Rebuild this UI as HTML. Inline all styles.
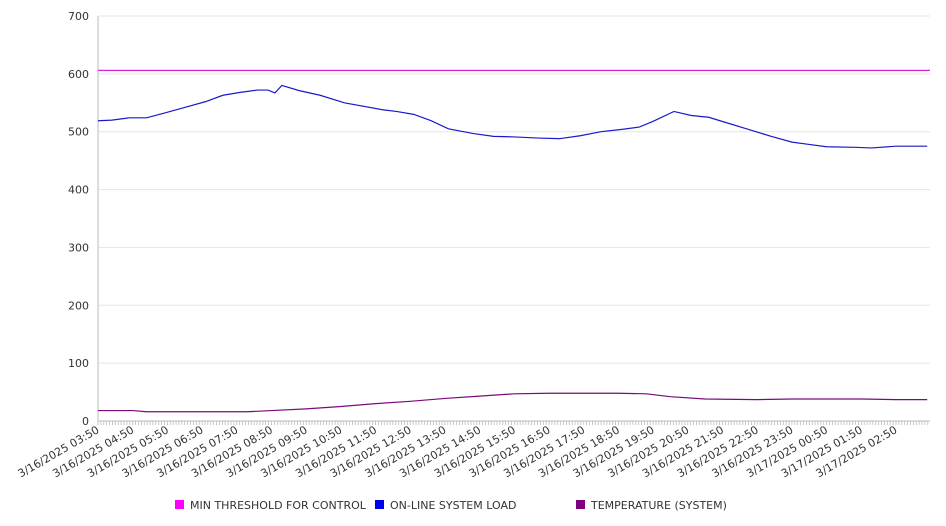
<!DOCTYPE html>
<html><head><meta charset="utf-8"><style>
html,body{margin:0;padding:0;background:#fff;}
svg{display:block;font-family:"DejaVu Sans","Liberation Sans",sans-serif;}
</style></head><body>
<svg id="chart" width="946" height="526"></svg>
<script>
const yTicks=[0,100,200,300,400,500,600,700];
const xLabels=["3/16/2025 03:50","3/16/2025 04:50","3/16/2025 05:50","3/16/2025 06:50","3/16/2025 07:50","3/16/2025 08:50","3/16/2025 09:50","3/16/2025 10:50","3/16/2025 11:50","3/16/2025 12:50","3/16/2025 13:50","3/16/2025 14:50","3/16/2025 15:50","3/16/2025 16:50","3/16/2025 17:50","3/16/2025 18:50","3/16/2025 19:50","3/16/2025 20:50","3/16/2025 21:50","3/16/2025 22:50","3/16/2025 23:50","3/17/2025 00:50","3/17/2025 01:50","3/17/2025 02:50"];
const thresholdValue=606;
const loadHours=[0,0.4,0.9,1.4,1.9,2.5,3.1,3.6,4.1,4.6,4.9,5.1,5.3,5.8,6.4,7.1,8.2,8.6,9.1,9.6,10.1,10.8,11.4,12.0,12.7,13.3,13.9,14.5,15.1,15.6,16.0,16.6,17.1,17.6,18.2,18.8,19.4,20.0,20.5,21.0,21.8,22.3,23.0,23.9];
const loadValues=[519,520,524,524,532,542,552,563,568,572,572,567,580,571,563,550,538,535,530,519,505,497,492,491,489,488,493,500,504,508,518,535,528,525,514,503,492,482,478,474,473,472,475,475];
const tempHours=[0,1.0,1.4,4.3,5.0,6.0,7.0,8.0,9.0,10.0,11.0,12.0,13.0,14.0,15.0,15.8,16.5,17.5,19.0,20.0,21.0,22.0,23.0,23.9];
const tempValues=[18,18,16,16,18,21,25,30,34,39,43,47,48,48,48,47,42,38,37,38,38,38,37,37];
const X0=98,X1=930,Y0=421,Y1=16,HMAX=23.98;
const xs=h=>X0+h*(X1-X0)/HMAX;
const ys=v=>Y0-v*(Y0-Y1)/700;
const NS="http://www.w3.org/2000/svg";
const svg=document.getElementById('chart');
function mk(t,a,p){const e=document.createElementNS(NS,t);for(const k in a)e.setAttribute(k,a[k]);(p||svg).appendChild(e);return e;}
const grid=mk('g',{});


yTicks.forEach(v=>{
 const l=mk('line',{x1:X0,x2:X1,y1:ys(v),y2:ys(v),stroke:v===0?'#bbb':'#e6e6e6','stroke-width':1},grid);
 
 
 const t=mk('text',{x:89,y:ys(v)+4,'text-anchor':'end','font-size':11,fill:'#333'});
 t.textContent=v;
 
 
});
const ax=mk('line',{x1:X0,x2:X0,y1:Y1,y2:Y0,stroke:'#bbb'});


for(let m=0;m<=HMAX*12;m++){
 const t=mk('line',{x1:xs(m/12),x2:xs(m/12),y1:Y0,y2:Y0+4,stroke:'#bbb','stroke-width':0.8});
 
 
}
xLabels.forEach((s,i)=>{
 const x=xs(i)+2,y=Y0+11;
 const t=mk('text',{x:x,y:y,'text-anchor':'end','font-size':11,fill:'#333',transform:`rotate(-30 ${x} ${y})`});
 t.textContent=s;
 
 
});
const th=mk('line',{x1:X0,x2:X1,y1:ys(thresholdValue),y2:ys(thresholdValue),stroke:'#dd22dd','stroke-width':1.2});


const lp=mk('polyline',{points:loadHours.map((h,i)=>xs(h)+','+ys(loadValues[i])).join(' '),fill:'none',stroke:'#1a1acc','stroke-width':1.2});


const tp=mk('polyline',{points:tempHours.map((h,i)=>xs(h)+','+ys(tempValues[i])).join(' '),fill:'none',stroke:'#7a0a7a','stroke-width':1.2});


const leg=[["MIN THRESHOLD FOR CONTROL","#ff00ff",175],["ON-LINE SYSTEM LOAD","#0000ee",375],["TEMPERATURE (SYSTEM)","#800080",576]];
leg.forEach(([n,c,x])=>{
 const g=mk('g',{});
 
 
 mk('rect',{x:x,y:500,width:9,height:9,fill:c},g);
 const t=mk('text',{x:x+15,y:509,'font-size':11,fill:'#333'},g);
 t.textContent=n;
});
</script>
</body></html>
